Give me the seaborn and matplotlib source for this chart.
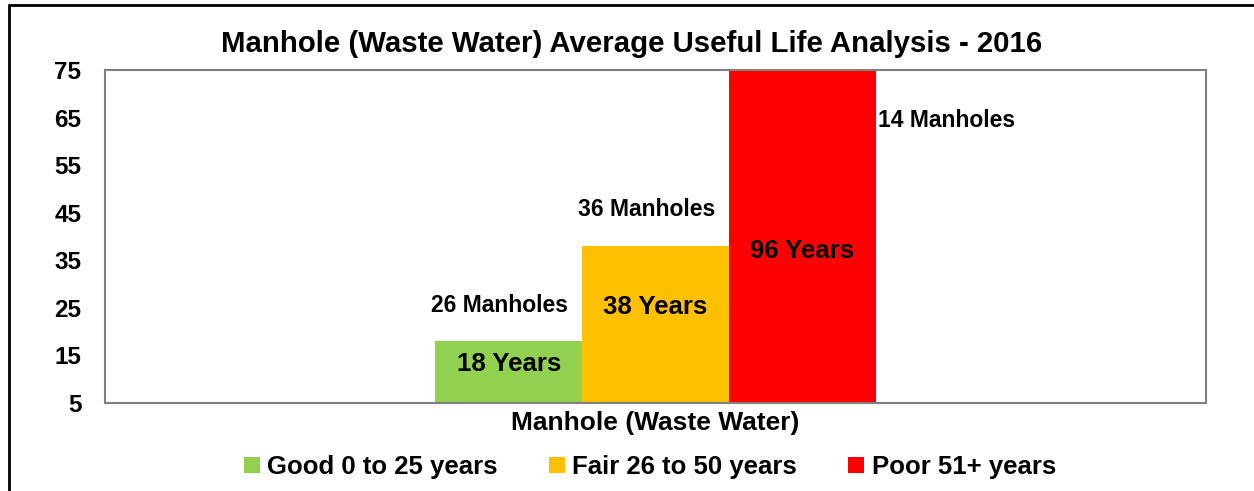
import pandas as pd
import matplotlib.pyplot as plt
import seaborn as sns
from matplotlib.lines import Line2D
from matplotlib.patches import Patch

# data
asset = "Manhole (Waste Water)"
conditions = ["Good 0 to 25 years", "Fair 26 to 50 years", "Poor 51+ years"]
avg_life = [18, 38, 96]
manhole_counts = [26, 36, 14]
colors = ["#92D050", "#FFC000", "#FF0000"]

# label heights (data units)
years_label_y = [13.2, 25.2, 37.0]
count_label_y = [25.6, 45.6, 64.3]

df = pd.DataFrame({
    "asset": [asset] * len(conditions),
    "condition": conditions,
    "years": avg_life,
})

sns.set_style("white")
plt.rcParams["font.family"] = ["Liberation Sans", "DejaVu Sans"]
plt.rcParams["font.weight"] = "bold"
plt.rcParams["text.color"] = "black"
plt.rcParams["xtick.color"] = "black"
plt.rcParams["ytick.color"] = "black"

fig = plt.figure(figsize=(12.54, 4.91), dpi=100)
ax = fig.add_axes([105 / 1254, 1 - 403 / 491, 1101 / 1254, 333 / 491])

sns.barplot(data=df, x="asset", y="years", hue="condition", palette=colors,
            width=0.4, gap=0, saturation=1, legend=False, linewidth=0,
            edgecolor="none", ax=ax)

ax.set_ylim(5, 75)
ax.set_yticks(range(5, 76, 10))
ax.set_xlim(-0.5, 0.5)
ax.set_xlabel("")
ax.set_ylabel("")
ax.tick_params(axis="y", length=0, pad=17, labelsize=17.5, labelcolor="black")
ax.tick_params(axis="x", length=0, pad=6, labelsize=19, labelcolor="black")
for lab in ax.get_xticklabels() + ax.get_yticklabels():
    lab.set_fontweight("bold")
for s in ax.spines.values():
    s.set_color("#808080")
    s.set_linewidth(1.5)

# bar labels
for i, cont in enumerate(ax.containers):
    bar = cont[0]
    cx = bar.get_x() + bar.get_width() / 2
    ax.text(cx, years_label_y[i], f"{avg_life[i]} Years", ha="center", va="center",
            fontsize=18.5, fontweight="bold", color="black")
    if i < 2:
        ax.text(cx - 0.008, count_label_y[i], f"{manhole_counts[i]} Manholes",
                ha="center", va="center", fontsize=16.5, fontweight="bold", color="black")
    else:
        ax.text(bar.get_x() + bar.get_width() + 0.002, count_label_y[i],
                f"{manhole_counts[i]} Manholes", ha="left", va="center",
                fontsize=16.5, fontweight="bold", color="black")

fig.text(632 / 1254, 1 - 44 / 491, "Manhole (Waste Water) Average Useful Life Analysis - 2016",
         ha="center", va="center", fontsize=21.2, fontweight="bold", color="black")

handles = [Patch(facecolor=c, edgecolor="none") for c in colors]
fig.legend(handles, conditions, loc="center", bbox_to_anchor=(650 / 1254, 1 - 467 / 491),
           ncol=3, frameon=False, prop={"size": 18.5, "weight": "bold"},
           labelcolor="black",
           handlelength=0.6, handleheight=0.6, handletextpad=0.3, columnspacing=2.0)

# outer chart border (left and top visible)
fig.add_artist(Line2D([8.5 / 1254, 8.5 / 1254], [0, 1 - 5 / 491], color="black", lw=2,
                      transform=fig.transFigure))
fig.add_artist(Line2D([8.5 / 1254, 1], [1 - 5 / 491, 1 - 5 / 491], color="black", lw=2,
                      transform=fig.transFigure))

fig.savefig("out.png", dpi=100)
